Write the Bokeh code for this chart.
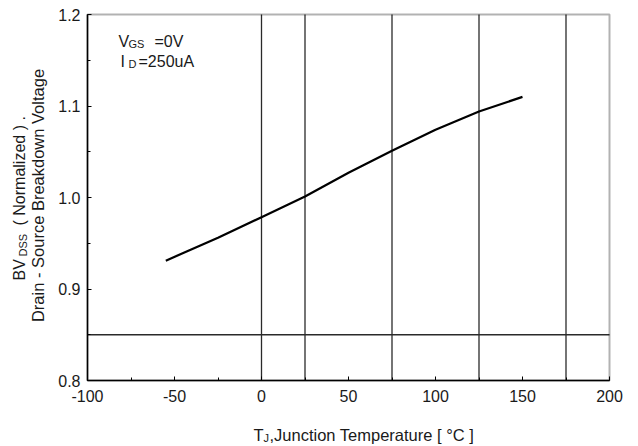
import math
from bokeh.plotting import figure
from bokeh.models import Range1d, FixedTicker, Label, PrintfTickFormatter, BoxAnnotation
from bokeh.embed import file_html
from bokeh.resources import INLINE

# data
temp_c = [-55, -25, 0, 25, 50, 75, 100, 125, 150]
bv_norm = [0.931, 0.956, 0.9785, 1.001, 1.027, 1.051, 1.074, 1.094, 1.110]
x_ticks = [-100, -50, 0, 50, 100, 150, 200]
y_ticks = [0.8, 0.9, 1.0, 1.1, 1.2]
grid_x = [0, 25, 75, 125, 175]
grid_y = [0.85]

FONT = "Liberation Sans"
TXT = "#1a1a1a"

# layout (pixels): the plotting box inside the canvas
W, H = 630, 446
FL, FR, FT, FB = 87, 609, 14, 380
x0, x1 = x_ticks[0], x_ticks[-1]
y0, y1 = y_ticks[0], y_ticks[-1]
ux = (x1 - x0) / (FR - FL)
uy = (y1 - y0) / (FB - FT)
xr = Range1d(x0 - FL * ux, x1 + (W - FR) * ux)
yr = Range1d(y0 - (H - FB) * uy, y1 + FT * uy)

def px2x(px):
    return x0 + (px - FL) * ux

def py2y(py):
    return y1 - (py - FT) * uy

p = figure(width=W, height=H, output_backend="svg", toolbar_location=None,
           x_range=xr, y_range=yr,
           min_border_left=0, min_border_top=0, min_border_right=0, min_border_bottom=0)
p.background_fill_color = "white"
p.border_fill_color = "white"
p.outline_line_color = None
p.grid.visible = False

xa = p.xaxis[0]
ya = p.yaxis[0]
xa.fixed_location = y0
ya.fixed_location = x0
xa.bounds = (x0, x1)
ya.bounds = (y0, y1)
for ax in (xa, ya):
    ax.axis_line_color = "black"
    ax.axis_line_width = 1.5
    ax.major_tick_in = 4
    ax.major_tick_out = 0
    ax.minor_tick_in = 3
    ax.minor_tick_out = 0
    ax.major_tick_line_color = "black"
    ax.minor_tick_line_color = "black"
    ax.major_label_text_font = FONT
    ax.major_label_text_font_size = "16px"
    ax.major_label_text_color = TXT
    ax.axis_label = None

xa.ticker = FixedTicker(ticks=x_ticks, minor_ticks=list(range(-100, 201, 25)))
ya.ticker = FixedTicker(ticks=y_ticks, minor_ticks=[0.8 + 0.05 * i for i in range(9)])
xa.formatter = PrintfTickFormatter(format="%d")
ya.formatter = PrintfTickFormatter(format="%.1f")
xa.major_label_standoff = 9
ya.major_label_standoff = 7

# grid lines (only at the reference's positions, bounded to the plot box)
p.segment(x0=grid_x, y0=[y0] * len(grid_x), x1=grid_x, y1=[y1] * len(grid_x),
          line_color="#2a2a2a", line_width=1.3)
p.segment(x0=[x0] * len(grid_y), y0=grid_y, x1=[x1] * len(grid_y), y1=grid_y,
          line_color="#2a2a2a", line_width=1.3)

# plot box
p.add_layout(BoxAnnotation(left=x0, right=x1, bottom=y0, top=y1, fill_alpha=0,
                           line_color="black", line_width=2))

p.line(temp_c, bv_norm, line_color="black", line_width=2.2)

def lab(px, py, t, size, angle=0.0, align="left", baseline="middle"):
    p.add_layout(Label(x=px2x(px), y=py2y(py), text=t, angle=angle, text_align=align,
                       text_baseline=baseline, text_font=FONT,
                       text_font_size=size, text_color=TXT))

# conditions annotation
lab(118, 41, "V", "16px")
lab(128, 43.5, "GS", "11px")
lab(154, 41, "=0V", "16px")
lab(120, 61, "I", "16px")
lab(128, 63.5, "D", "11px")
lab(138, 61, "=250uA", "16px")

# x axis title
lab(253, 434, "T", "16.5px")
lab(263, 437.5, "J", "11px")
lab(269, 434, ",Junction Temperature [ \u00b0C ]", "16.5px")

# y axis title (two rotated lines)
rot = math.pi / 2
lab(37.5, 195, "Drain - Source Breakdown Voltage", "16.5px", angle=rot, align="center")
lab(19, 280, "BV", "16px", angle=rot)
lab(22.5, 256, "DSS", "11px", angle=rot)
lab(19, 225, "( Normalized ) .", "16px", angle=rot)

open("out.html", "w").write(file_html(p, INLINE))
